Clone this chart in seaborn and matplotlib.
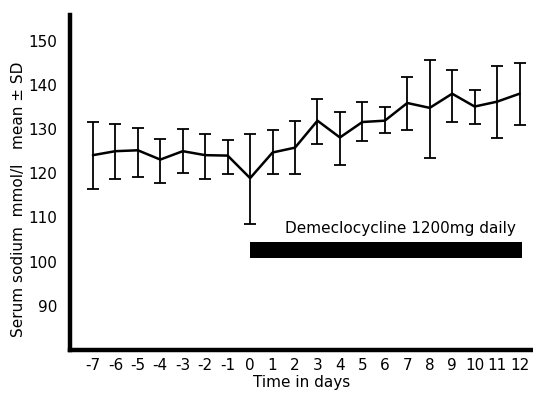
import matplotlib
matplotlib.use("Agg")
import matplotlib.pyplot as plt
import seaborn as sns
import numpy as np
import pandas as pd

# days relative to start of treatment
days = [-7, -6, -5, -4, -3, -2, -1, 0, 1, 2, 3, 4, 5, 6, 7, 8, 9, 10, 11, 12]
mean_na = [124.1, 125.0, 125.2, 123.1, 125.0, 124.1, 124.0, 118.9, 124.7, 125.8,
           131.9, 128.1, 131.6, 131.9, 135.9, 134.8, 138.0, 135.1, 136.2, 138.0]
sd_upper = [131.5, 131.1, 130.3, 127.7, 130.0, 128.9, 127.6, 128.8, 129.8, 131.9,
            136.9, 133.8, 136.2, 134.9, 141.7, 145.6, 143.3, 138.8, 144.2, 144.9]
sd_lower = [116.4, 118.8, 119.2, 117.8, 120.0, 118.6, 119.8, 108.5, 119.9, 119.9,
            126.6, 121.8, 127.4, 129.0, 129.8, 123.4, 131.7, 131.1, 127.9, 130.9]
y_ticks = [90, 100, 110, 120, 130, 140, 150]

treat_start, treat_end = 0, 12.1
treat_low, treat_high = 100.8, 104.4
treat_label = "Demeclocycline 1200mg daily"

df = pd.DataFrame({"day": days, "mean": mean_na, "hi": sd_upper, "lo": sd_lower})

sns.set_style("white")
plt.rcParams["font.family"] = ["DejaVu Sans"]
plt.rcParams["text.color"] = "black"
plt.rcParams["axes.labelcolor"] = "black"
plt.rcParams["xtick.color"] = "black"
plt.rcParams["ytick.color"] = "black"

fig = plt.figure(figsize=(5.33, 3.96), dpi=100)
ax = fig.add_axes([0.131, 0.116, 0.869, 0.846])

# mean line
sns.lineplot(data=df, x="day", y="mean", ax=ax, color="black", linewidth=1.8)

# SD error bars
yerr = np.array([df["mean"] - df["lo"], df["hi"] - df["mean"]])
ax.errorbar(df["day"], df["mean"], yerr=yerr, fmt="none", ecolor="black",
            elinewidth=1.3, capsize=4.5, capthick=1.3)

# treatment bar
ax.fill_between([treat_start, treat_end], treat_low, treat_high, color="black", linewidth=0)
ax.text(1.55, 107.6, treat_label, fontsize=11, ha="left", va="center")

ax.set_xlim(-8.03, 12.6)
ax.set_ylim(80, 155.8)
ax.set_xticks(days)
ax.set_xticklabels([str(d) for d in days], fontsize=11)
ax.set_yticks(y_ticks)
ax.set_yticklabels([str(v) for v in y_ticks], fontsize=11)
ax.tick_params(axis="both", length=0)
ax.tick_params(axis="y", pad=9)
ax.tick_params(axis="x", pad=6)

ax.set_xlabel("Time in days", fontsize=11, labelpad=1)
ax.set_ylabel("Serum sodium  mmol/l   mean \u00b1 SD", fontsize=11, labelpad=2)
ax.yaxis.set_label_coords(-0.095, 0.45)

for side in ["top", "right"]:
    ax.spines[side].set_visible(False)
for side in ["left", "bottom"]:
    ax.spines[side].set_linewidth(3.2)
    ax.spines[side].set_color("black")

fig.savefig("out.png", dpi=100)
